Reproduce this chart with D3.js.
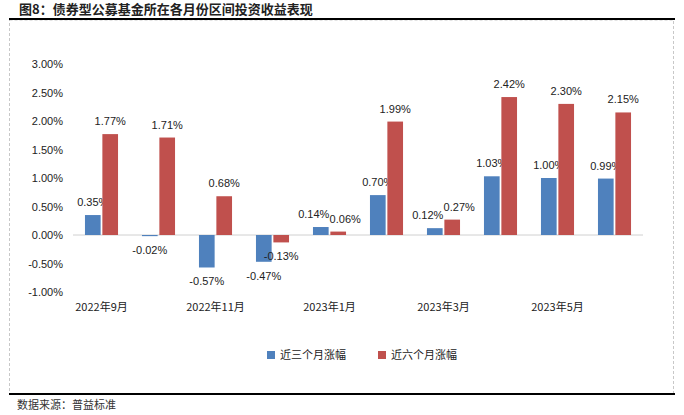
<!DOCTYPE html>
<html>
<head>
<meta charset="utf-8">
<script src="https://d3js.org/d3.v7.min.js"></script>
<style>
  body { margin: 0; background: #fff; }
  svg text { font-family: "Noto Sans CJK SC", "Liberation Sans", sans-serif; }
</style>
</head>
<body>
<div id="chart"></div>
<script>
// months shown on x axis (every other one labelled)
var months = ["2022年9月", "2022年10月", "2022年11月", "2022年12月", "2023年1月",
              "2023年2月", "2023年3月", "2023年4月", "2023年5月", "2023年6月"];
var seriesNames = ["近三个月涨幅", "近六个月涨幅"];
var threeMonth = [0.35, -0.02, -0.57, -0.47, 0.14, 0.70, 0.12, 1.03, 1.00, 0.99];
var sixMonth   = [1.77, 1.71, 0.68, -0.13, 0.06, 1.99, 0.27, 2.42, 2.30, 2.15];
var yTicks = [-1, -0.5, 0, 0.5, 1, 1.5, 2, 2.5, 3];
var colors = ["#4f81bd", "#c0504d"];

var W = 684, H = 415;
var svg = d3.select("#chart").append("svg")
  .attr("width", W).attr("height", H);

// title + frame
svg.append("text").attr("x", 19).attr("y", 14)
  .attr("font-size", 13).attr("font-weight", "bold").attr("fill", "#222")
  .text("图8：债券型公募基金所在各月份区间投资收益表现");
svg.append("rect").attr("x", 9.5).attr("y", 20).attr("width", 664).attr("height", 374)
  .attr("fill", "none").attr("stroke", "#c8c8c8").attr("stroke-dasharray", "3,2");
svg.append("line").attr("x1", 9).attr("x2", 675).attr("y1", 19).attr("y2", 19)
  .attr("stroke", "#000").attr("stroke-width", 2);
svg.append("line").attr("x1", 9).attr("x2", 675).attr("y1", 394).attr("y2", 394)
  .attr("stroke", "#000").attr("stroke-width", 2);
svg.append("text").attr("x", 17).attr("y", 409)
  .attr("font-size", 11).attr("fill", "#333")
  .text("数据来源：普益标准");

var x = d3.scaleBand().domain(months).range([73, 643]).paddingInner(0.42).paddingOuter(0.21);
var xs = d3.scaleBand().domain([0, 1]).range([0, x.bandwidth()]).paddingInner(0.1);
var y = d3.scaleLinear().domain([-1, 3]).range([292, 64]);

// y axis labels
var yAxis = svg.append("g").attr("transform", "translate(66,0)")
  .call(d3.axisLeft(y).tickValues(yTicks).tickSize(0).tickFormat(function (d) { return d.toFixed(2) + "%"; }));
yAxis.select(".domain").remove();
yAxis.selectAll("text").attr("font-size", 11).attr("fill", "#222")
  .style("font-family", "'Liberation Sans', sans-serif");

// zero line
svg.append("line").attr("x1", 73).attr("x2", 643).attr("y1", y(0)).attr("y2", y(0))
  .attr("stroke", "#d0d0d0").attr("stroke-width", 1);

// x axis labels
var xAxis = svg.append("g").attr("transform", "translate(0,300)")
  .call(d3.axisBottom(x).tickSize(0).tickFormat(function (d, i) { return i % 2 === 0 ? d : ""; }));
xAxis.select(".domain").remove();
xAxis.selectAll("text").attr("font-size", 11).attr("fill", "#222");

// labels that sit too close to their neighbour get pushed sideways a bit
function crowded(i) {
  var a = threeMonth[i], b = sixMonth[i];
  return a >= 0 && b >= 0 && Math.abs(y(a) - y(b)) < 12;
}

var series = [threeMonth, sixMonth];
series.forEach(function (vals, s) {
  var g = svg.append("g");
  g.selectAll("rect").data(vals).enter().append("rect")
    .attr("x", function (d, i) { return x(months[i]) + xs(s); })
    .attr("width", xs.bandwidth())
    .attr("y", function (d) { return Math.min(y(d), y(0)); })
    .attr("height", function (d) { return Math.abs(y(d) - y(0)); })
    .attr("fill", colors[s]);
  g.selectAll("text").data(vals).enter().append("text")
    .attr("x", function (d, i) {
      var cx = x(months[i]) + xs(s) + xs.bandwidth() / 2;
      if (crowded(i)) cx += s === 0 ? -7 : 7;
      return cx;
    })
    .attr("y", function (d) { return d >= 0 ? y(d) - 9 : y(d) + 18; })
    .attr("text-anchor", "middle")
    .attr("font-size", 11).attr("fill", "#222")
    .style("font-family", "'Liberation Sans', sans-serif")
    .text(function (d) { return d.toFixed(2) + "%"; });
});

// legend
var legend = svg.append("g").attr("transform", "translate(267,355)");
seriesNames.forEach(function (name, i) {
  var lg = legend.append("g").attr("transform", "translate(" + (i * 111) + ",0)");
  lg.append("rect").attr("x", 0).attr("y", -4).attr("width", 8).attr("height", 8).attr("fill", colors[i]);
  lg.append("text").attr("x", 13).attr("y", 4).attr("font-size", 11).attr("fill", "#222").text(name);
});
</script>
</body>
</html>
